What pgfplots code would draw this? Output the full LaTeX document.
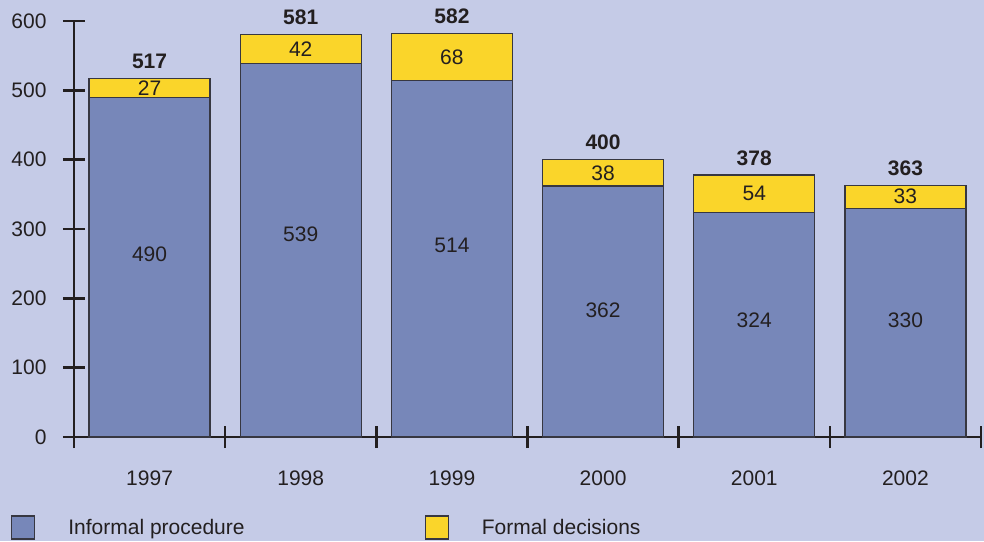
\documentclass[border=0pt]{standalone}
\usepackage{fontspec}
\setmainfont{Liberation Sans}
\usepackage{pgfplots}
\pgfplotsset{compat=1.18}
\usepackage{pgfplotstable}

\definecolor{bg}{RGB}{197,203,231}
\definecolor{informal}{RGB}{119,135,185}
\definecolor{formal}{RGB}{250,213,42}
\definecolor{ink}{RGB}{35,31,32}
\definecolor{edge}{RGB}{55,55,65}

% cases per year: informal procedure, formal decisions, total,
% and the height at which the informal count is printed
\pgfplotstableread{
x informal formal total ilab
0 490 27 517 264
1 539 42 581 293
2 514 68 582 277
3 362 38 400 183
4 324 54 378 169
5 330 33 363 169
}\cases

\begin{document}
\begin{tikzpicture}[font=\fontsize{21}{25}\selectfont, text=ink]
\fill[bg] (0pt,0pt) rectangle (984pt,541pt);
\useasboundingbox (0pt,0pt) rectangle (984pt,541pt);
\begin{axis}[
  at={(74pt,104pt)}, anchor=south west, scale only axis,
  width=907pt, height=416pt,
  xmin=-0.5, xmax=5.5, ymin=0, ymax=600,
  clip=false,
  axis lines*=left,
  axis line style={ink, line width=2.4pt, -},
  tick align=center,
  major tick length=22pt,
  major tick style={ink, line width=2.4pt},
  ytick={0,100,...,600},
  yticklabel style={anchor=east, xshift=-13pt},
  xtick={-0.5,0.5,...,5.5},
  xticklabels={},
  extra x ticks={0,1,2,3,4,5},
  extra x tick labels={1997,1998,1999,2000,2001,2002},
  extra x tick style={major tick length=0pt, xticklabel style={yshift=-30pt}},
  /pgf/number format/assume math mode=true,
  legend columns=2,
  legend style={at={(axis description cs:-0.0695,-0.2175)}, anchor=west,
    draw=none, fill=none, inner sep=0pt,
    nodes={inner sep=0pt, anchor=west},
    /tikz/every odd column/.append style={column sep=33pt},
    /tikz/every even column/.append style={column sep=180pt}},
  legend image code/.code={\draw[#1, draw=edge, line width=1.2pt] (0pt,-11.5pt) rectangle (23pt,11.5pt);},
]
\addlegendimage{fill=informal}
\addlegendentry{Informal procedure}
\addlegendimage{fill=formal}
\addlegendentry{Formal decisions}

% full column in yellow, informal part drawn over it in blue
\addplot[ybar, bar width=121pt, bar shift=0pt, fill=formal, draw=edge, line width=1.2pt, forget plot]
  table[x=x, y=total]{\cases};
\addplot[ybar, bar width=121pt, bar shift=0pt, fill=informal, draw=edge, line width=1.2pt, forget plot]
  table[x=x, y=informal]{\cases};

% value labels
\addplot[draw=none, mark=none, forget plot, nodes near coords, point meta=explicit symbolic,
  every node near coord/.append style={anchor=center, text=ink}]
  table[x=x, y=ilab, meta=informal]{\cases};
\addplot[draw=none, mark=none, forget plot, nodes near coords, point meta=explicit symbolic,
  every node near coord/.append style={anchor=center, text=ink}]
  table[x=x, y expr=\thisrow{informal}+0.5*\thisrow{formal}, meta=formal]{\cases};
\addplot[draw=none, mark=none, forget plot, nodes near coords, point meta=explicit symbolic,
  every node near coord/.append style={anchor=center, text=ink, font=\fontsize{21}{25}\selectfont\bfseries, yshift=17pt}]
  table[x=x, y=total, meta=total]{\cases};
\end{axis}
\end{tikzpicture}
\end{document}
